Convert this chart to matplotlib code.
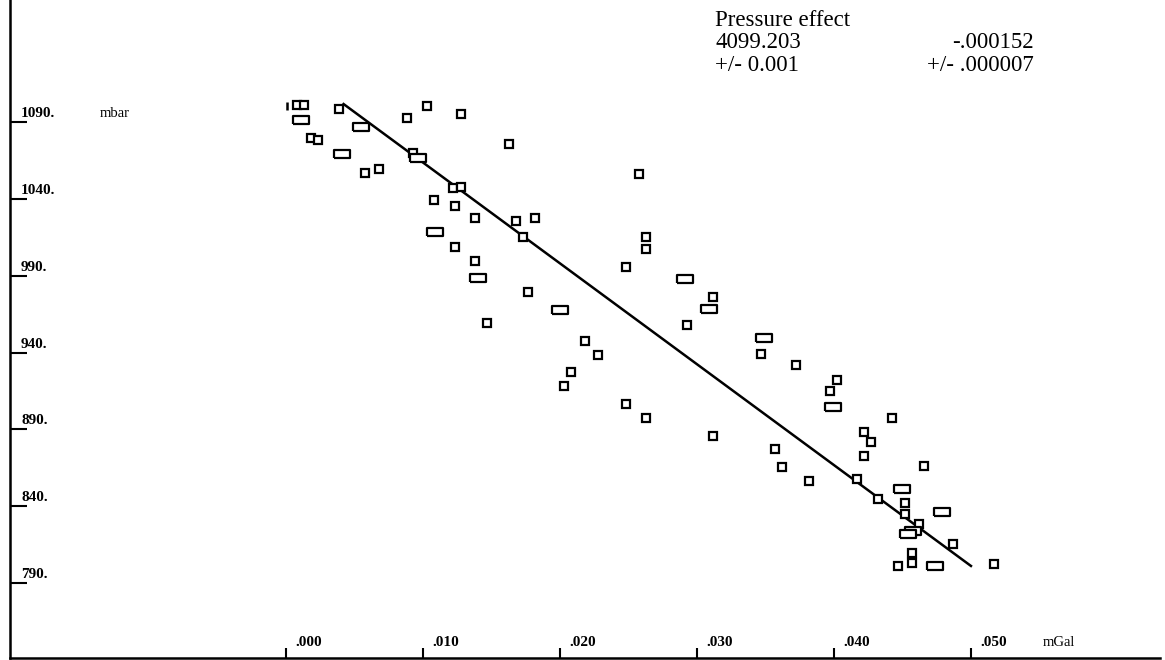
import matplotlib
matplotlib.use("Agg")
import matplotlib.pyplot as plt
from matplotlib.transforms import offset_copy

plt.rcParams['font.family'] = ['Liberation Serif', 'DejaVu Serif']

# gravity residual (mGal) vs air pressure (mbar)
sq_x = [0.0008, 0.0013, 0.0018, 0.0023, 0.0039, 0.0058, 0.0068, 0.0088, 0.0103, 0.0128,
        0.0093, 0.0163, 0.0122, 0.0128, 0.0108, 0.0123, 0.0138, 0.0168, 0.0182, 0.0173,
        0.0123, 0.0138, 0.0177, 0.0258, 0.0263, 0.0263, 0.0248, 0.0147, 0.0293, 0.0218,
        0.0228, 0.0208, 0.0203, 0.0248, 0.0263, 0.0312, 0.0347, 0.0372, 0.0402, 0.0397,
        0.0312, 0.0357, 0.0362, 0.0382, 0.0442, 0.0422, 0.0427, 0.0422, 0.0466, 0.0417,
        0.0432, 0.0452, 0.0452, 0.0462, 0.0487, 0.0457, 0.0457, 0.0447, 0.0517]
sq_y = [1101.1, 1101.1, 1079.6, 1078.3, 1098.5, 1056.8, 1059.4, 1092.6, 1100.4, 1095.2,
        1069.8, 1075.7, 1047.1, 1047.7, 1039.2, 1035.3, 1027.5, 1025.6, 1027.5, 1015.2,
        1008.7, 999.5, 979.4, 1056.2, 1015.2, 1007.4, 995.6, 959.2, 957.9, 947.5,
        938.4, 927.3, 918.2, 906.5, 897.4, 976.1, 939.0, 931.9, 922.1, 915.0,
        885.7, 877.2, 865.5, 856.4, 897.4, 888.3, 881.8, 872.7, 866.1, 857.7,
        844.7, 842.1, 834.9, 828.4, 815.4, 809.5, 803.0, 801.1, 802.4]

wide_x = [0.0011, 0.0055, 0.0041, 0.0096, 0.0109, 0.0140, 0.0291, 0.0200, 0.0309, 0.0349,
          0.0399, 0.0450, 0.0479, 0.0458, 0.0454, 0.0474]
wide_y = [1091.3, 1086.7, 1069.2, 1066.6, 1018.4, 988.5, 987.8, 967.7, 968.3, 949.4,
          904.5, 851.2, 836.2, 823.8, 821.9, 801.1]

bar_x = [0.00007]
bar_y = [1100.4]

fit_x = [0.0042, 0.0500]
fit_y = [1101.7, 801.1]

yticks = [790, 840, 890, 940, 990, 1040, 1090]
ytick_labels = ['790.', '840.', '890.', '940.', '990.', '1040.', '1090.']
xticks = [0.000, 0.010, 0.020, 0.030, 0.040, 0.050]
xtick_labels = ['.000', '.010', '.020', '.030', '.040', '.050']

fig = plt.figure(figsize=(11.65, 6.6), dpi=100)
ax = fig.add_axes([10 / 1165, 2 / 660, 1150 / 1165, 658 / 660])
ax.set_xlim(-0.02015, 0.0638)
ax.set_ylim(741.2, 1169.4)

for s in ['top', 'right']:
    ax.spines[s].set_visible(False)
ax.spines['left'].set_linewidth(1.8)
ax.spines['bottom'].set_linewidth(1.8)

ax.plot(fit_x, fit_y, color='black', lw=1.8)
ax.plot(sq_x, sq_y, ls='none', marker='s', ms=5.6, mfc='white', mec='black', mew=1.6)
wide = [(-1, -0.55), (1, -0.55), (1, 0.55), (-1, 0.55), (-1, -0.55)]
ax.plot(wide_x, wide_y, ls='none', marker=wide, ms=11, mfc='white', mec='black', mew=1.6)
ax.plot(bar_x, bar_y, ls='none', marker='|', ms=6, mec='black', mew=1.8)

ax.set_yticks(yticks)
ax.set_xticks(xticks)
ax.set_yticklabels([])
ax.set_xticklabels([])
ax.tick_params(axis='y', direction='in', length=12, width=1.5)
ax.tick_params(axis='x', direction='in', length=7, width=1.5)

ytr = offset_copy(ax.get_yaxis_transform(), fig=fig, x=0, y=5, units='dots')
for v, lab in zip(yticks, ytick_labels):
    ax.text(11 / 1150, v, lab, transform=ytr, fontsize=11, fontweight='bold',
            ha='left', va='baseline')
ax.text(90 / 1150, 1090, 'mbar', transform=ytr, fontsize=10.5, ha='left', va='baseline')

xtr = offset_copy(ax.get_xaxis_transform(), fig=fig, x=9, y=0, units='dots')
for v, lab in zip(xticks, xtick_labels):
    ax.text(v, 12 / 658, lab, transform=xtr, fontsize=11, fontweight='bold',
            ha='left', va='baseline')
ax.text(1033 / 1150, 12 / 658, 'mGal', transform=ax.transAxes, fontsize=10.5,
        ha='left', va='baseline')

fig.text(715 / 1165, 1 - 26 / 660, 'Pressure effect', fontsize=16.5, ha='left', va='baseline')
fig.text(715 / 1165, 1 - 48 / 660, '4099.203', fontsize=16.5, ha='left', va='baseline')
fig.text(1034 / 1165, 1 - 48 / 660, '-.000152', fontsize=16.5, ha='right', va='baseline')
fig.text(715 / 1165, 1 - 71 / 660, '+/- 0.001', fontsize=16.5, ha='left', va='baseline')
fig.text(1034 / 1165, 1 - 71 / 660, '+/- .000007', fontsize=16.5, ha='right', va='baseline')

fig.savefig('out.png', dpi=100)
